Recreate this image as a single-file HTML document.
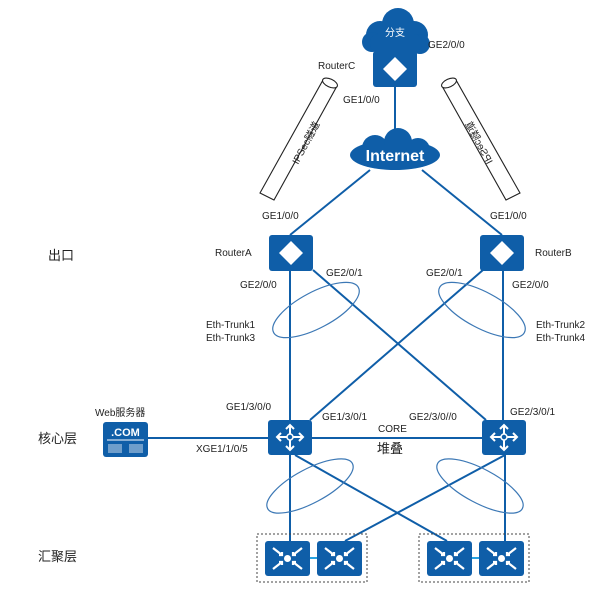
<!DOCTYPE html>
<html><head><meta charset="utf-8"><style>
html,body{margin:0;padding:0;background:#fff;}
svg{display:block;}
text{font-family:"Liberation Sans","Noto Sans CJK SC",sans-serif;fill:#222;}
</style></head><body>
<svg width="614" height="611" viewBox="0 0 614 611" xmlns="http://www.w3.org/2000/svg">
<defs>
<g id="sw">
<rect x="0" y="0" width="45" height="35" rx="3" fill="#0f5ea8"/>
<g stroke="#fff" stroke-width="2.2" fill="none">
<path d="M8 7 L17 14 M14 14 L17 14 L17 11"/>
<path d="M37 7 L28 14 M31 14 L28 14 L28 11"/>
<path d="M8 28 L17 21 M14 21 L17 21 L17 24"/>
<path d="M37 28 L28 21 M31 21 L28 21 L28 24"/>
</g>
<circle cx="22.5" cy="17.5" r="3.5" fill="#fff"/>
</g>
<g id="core">
<rect x="0" y="0" width="44" height="35" rx="3" fill="#0f5ea8"/>
<g stroke="#fff" stroke-width="2" fill="none">
<path d="M22 17 L22 5 M18 9 L22 5 L26 9"/>
<path d="M22 17 L22 30 M18 26 L22 30 L26 26"/>
<path d="M22 17 L9 17 M13 13 L9 17 L13 21"/>
<path d="M22 17 L35 17 M31 13 L35 17 L31 21"/>
</g>
<circle cx="22" cy="17" r="3" fill="#0f5ea8" stroke="#fff" stroke-width="1.5"/>
</g>
<g id="rt">
<rect x="0" y="0" width="44" height="36" rx="3" fill="#0f5ea8"/>
<polygon points="22,6 34,18 22,30 10,18" fill="#fff"/>
</g>
</defs>

<!-- lines -->
<g stroke="#0f5ea8" stroke-width="2" fill="none">
<line x1="395" y1="87" x2="395" y2="140"/>
<line x1="370" y1="170" x2="290" y2="235"/>
<line x1="422" y1="170" x2="502" y2="235"/>
<line x1="290" y1="271" x2="290" y2="420"/>
<line x1="503" y1="271" x2="503" y2="420"/>
<line x1="313" y1="270" x2="486" y2="420"/>
<line x1="483" y1="270" x2="310" y2="420"/>
<line x1="148" y1="438" x2="268" y2="438"/>
<line x1="312" y1="438" x2="482" y2="438"/>
<line x1="290" y1="455" x2="290" y2="541"/>
<line x1="295" y1="455" x2="447" y2="541"/>
<line x1="505" y1="455" x2="505" y2="541"/>
<line x1="505" y1="455" x2="345" y2="541"/>
</g>
<line x1="310" y1="558" x2="317" y2="558" stroke="#29a3e0" stroke-width="2"/>
<line x1="471" y1="558" x2="479" y2="558" stroke="#29a3e0" stroke-width="2"/>

<!-- ellipses -->
<g stroke="#3c78b5" stroke-width="1.2" fill="none">
<ellipse cx="316" cy="310" rx="48" ry="18" transform="rotate(-28 316 310)"/>
<ellipse cx="482" cy="310" rx="48" ry="18" transform="rotate(28 482 310)"/>
<ellipse cx="310" cy="486" rx="48" ry="17" transform="rotate(-28 310 486)"/>
<ellipse cx="480" cy="486" rx="48" ry="17" transform="rotate(28 480 486)"/>
</g>

<!-- clouds -->
<g fill="#0f5ea8">
<circle cx="380" cy="35" r="14"/><circle cx="398" cy="24" r="16"/><circle cx="414" cy="35" r="14"/>
<circle cx="372" cy="42" r="10"/><circle cx="420" cy="44" r="10"/><rect x="370" y="34" width="52" height="18" rx="8"/>
<ellipse cx="395" cy="155" rx="45" ry="15"/><circle cx="375" cy="148" r="13"/><circle cx="398" cy="142" r="14"/><circle cx="418" cy="150" r="12"/>
</g>
<text x="395" y="36" font-size="10" text-anchor="middle" style="fill:#fff">分支</text>
<text x="395" y="161" font-size="16" font-weight="bold" text-anchor="middle" style="fill:#fff">Internet</text>

<!-- tubes -->
<g fill="#fff" stroke="#222" stroke-width="1.1">
<path d="M323 80 L337 86 L274 200 L260 193 Z"/>
<ellipse cx="330" cy="83" rx="8" ry="4" transform="rotate(25 330 83)"/>
<path d="M442 86 L456 80 L520 193 L506 200 Z"/>
<ellipse cx="449" cy="83" rx="8" ry="4" transform="rotate(-25 449 83)"/>
</g>
<text font-size="10" transform="translate(298 165) rotate(-62)">IPSec隧道</text>
<text font-size="10" transform="translate(487 165) rotate(-118) scale(1,-1)">IPSec隧道</text>

<!-- devices -->
<use href="#rt" x="373" y="51"/>
<use href="#rt" x="269" y="235"/>
<use href="#rt" x="480" y="235"/>
<use href="#core" x="268" y="420"/>
<use href="#core" x="482" y="420"/>
<rect x="257" y="534" width="110" height="48" fill="none" stroke="#444" stroke-width="1" stroke-dasharray="2,2"/>
<rect x="419" y="534" width="110" height="48" fill="none" stroke="#444" stroke-width="1" stroke-dasharray="2,2"/>
<use href="#sw" x="265" y="541"/>
<use href="#sw" x="317" y="541"/>
<use href="#sw" x="427" y="541"/>
<use href="#sw" x="479" y="541"/>

<!-- web server -->
<rect x="103" y="422" width="45" height="35" rx="3" fill="#0f5ea8"/>
<text x="125.5" y="436" font-size="11" font-weight="bold" text-anchor="middle" style="fill:#fff">.COM</text>
<line x1="107" y1="440" x2="144" y2="440" stroke="#fff" stroke-width="1"/>
<g stroke="#fff" stroke-width="0.8">
<path d="M109 444v9M111 444v9M113 444v9M115 444v9M117 444v9M119 444v9M121 444v9M130 444v9M132 444v9M134 444v9M136 444v9M138 444v9M140 444v9M142 444v9"/>
</g>

<!-- labels -->
<g font-size="10">
<text x="428" y="48">GE2/0/0</text>
<text x="318" y="69">RouterC</text>
<text x="343" y="103">GE1/0/0</text>
<text x="262" y="219">GE1/0/0</text>
<text x="490" y="219">GE1/0/0</text>
<text x="215" y="256">RouterA</text>
<text x="535" y="256">RouterB</text>
<text x="240" y="288">GE2/0/0</text>
<text x="326" y="276">GE2/0/1</text>
<text x="426" y="276">GE2/0/1</text>
<text x="512" y="288">GE2/0/0</text>
<text x="206" y="328">Eth-Trunk1</text>
<text x="206" y="341">Eth-Trunk3</text>
<text x="536" y="328">Eth-Trunk2</text>
<text x="536" y="341">Eth-Trunk4</text>
<text x="95" y="416">Web服务器</text>
<text x="226" y="410">GE1/3/0/0</text>
<text x="322" y="420">GE1/3/0/1</text>
<text x="409" y="420">GE2/3/0//0</text>
<text x="510" y="415">GE2/3/0/1</text>
<text x="378" y="432">CORE</text>
<text x="196" y="452">XGE1/1/0/5</text>
</g>
<text x="377" y="453" font-size="13">堆叠</text>
<text x="48" y="260" font-size="13">出口</text>
<text x="38" y="443" font-size="13">核心层</text>
<text x="38" y="561" font-size="13">汇聚层</text>
</svg>
</body></html>
